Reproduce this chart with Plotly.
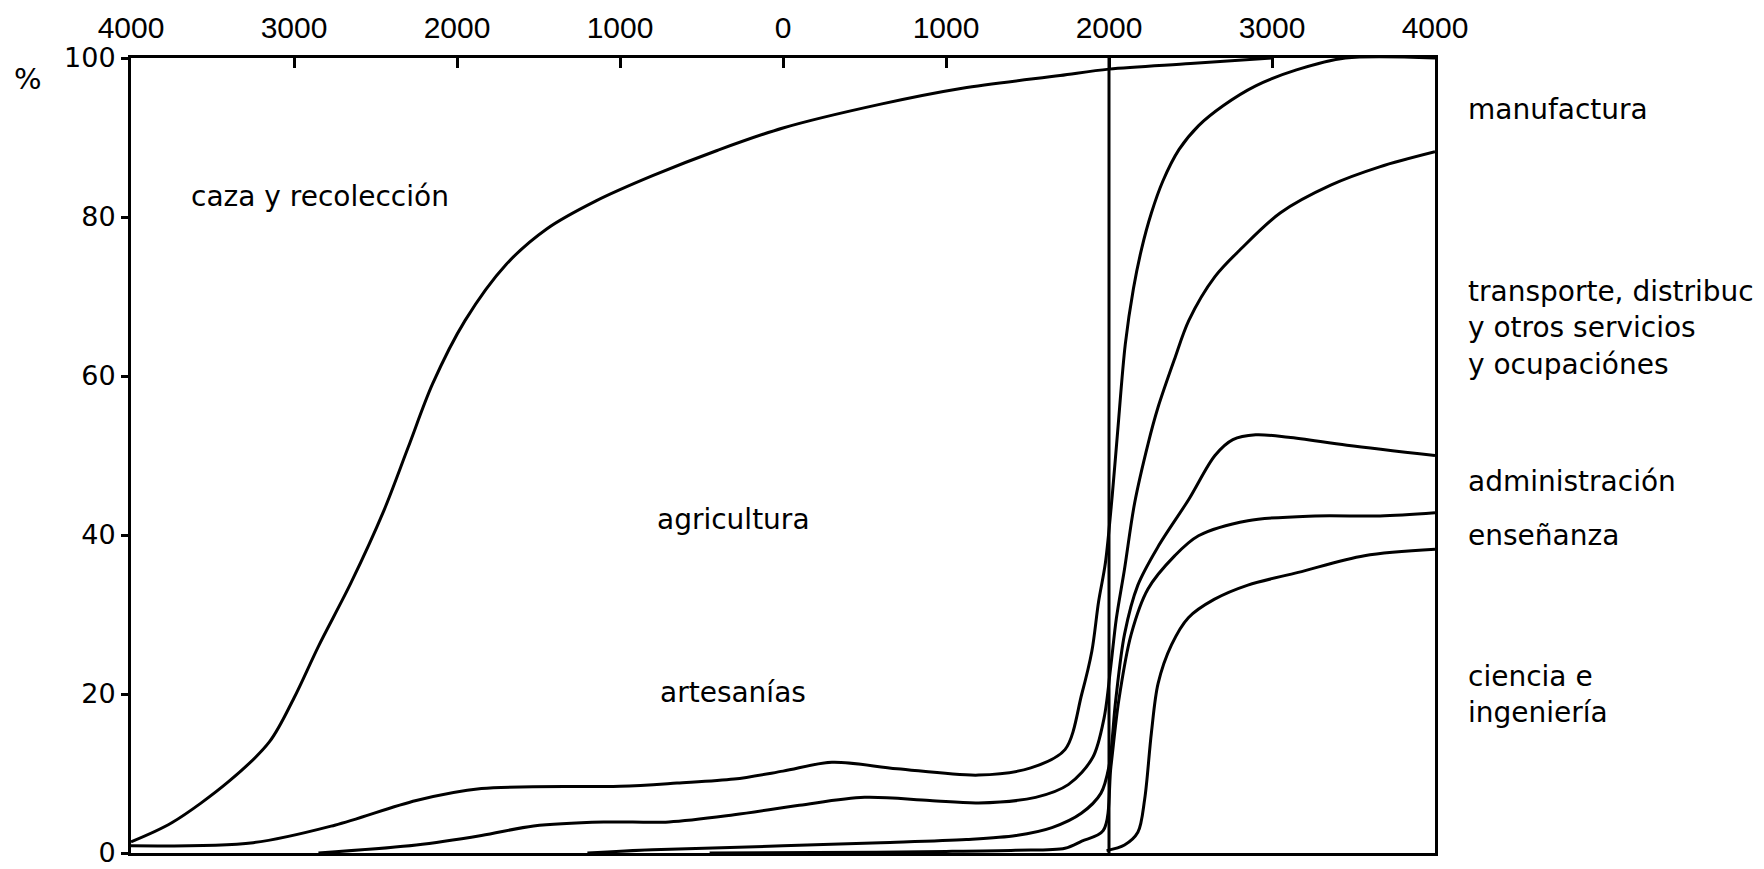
import plotly.graph_objects as go

# ---- data (years: negative = BC, percent of labour force) ----
tick_years = [-4000, -3000, -2000, -1000, 0, 1000, 2000, 3000, 4000]
tick_labels = ["4000", "3000", "2000", "1000", "0", "1000", "2000", "3000", "4000"]
pct_ticks = [0, 20, 40, 60, 80, 100]

caza_x = [-4000, -3750, -3400, -3150, -3000, -2850, -2650, -2450, -2300, -2150, -1950,
          -1700, -1450, -1150, -800, -400, 0, 600, 1100, 1700, 2000, 2500, 3000]
caza_y = [1.4, 3.8, 9.0, 14.0, 19.5, 26, 34, 43, 51, 59, 67,
          74, 78.5, 82, 85.2, 88.4, 91.2, 94.2, 96.2, 97.8, 98.6, 99.3, 100]

agri_x = [-4000, -3250, -2750, -2250, -1850, -1000, -650, -300, 0, 300, 700, 1200, 1520,
          1730, 1833, 1895, 1936, 1978, 2020, 2053, 2100, 2150, 2200, 2260, 2330, 2430,
          2550, 2700, 2900, 3150, 3450, 4000]
agri_y = [0.9, 1.3, 3.5, 6.6, 8.1, 8.4, 8.8, 9.3, 10.3, 11.4, 10.6, 9.8, 10.7,
          13.0, 20, 25.4, 31.6, 36.5, 45, 53, 64, 71, 76, 80.5, 84.5, 88.5,
          91.5, 94, 96.5, 98.5, 100, 100]

arte_x = [-2850, -2250, -1850, -1530, -1100, -700, -300, 100, 500, 900, 1200, 1550, 1750,
          1900, 1970, 2010, 2045, 2095, 2157, 2240, 2300, 2400, 2490, 2650, 2810, 3050,
          3360, 3660, 4000]
arte_y = [0, 1.0, 2.2, 3.4, 3.9, 3.9, 4.8, 6.0, 7.0, 6.6, 6.3, 7.0, 8.6,
          12, 17, 23.3, 29.5, 35.7, 44, 51.5, 56, 62, 67, 72.5, 76, 80.5,
          84, 86.3, 88.2]

serv_x = [-1200, -800, 0, 600, 1125, 1430, 1650, 1830, 1950, 2000, 2040, 2095, 2177,
          2300, 2490, 2650, 2760, 2900, 3100, 3460, 4000]
serv_y = [0, 0.4, 0.9, 1.3, 1.7, 2.2, 3.2, 5.0, 7.5, 10.9, 19, 27.5, 33.7,
          38.5, 44.5, 50, 52, 52.6, 52.3, 51.3, 50]

admin_x = [-450, 200, 1000, 1428, 1730, 1833, 1964, 2012, 2060, 2136, 2239, 2404, 2549,
           2852, 3264, 3663, 4000]
admin_y = [0, 0.05, 0.2, 0.35, 0.6, 1.5, 2.8, 10.9, 19.2, 27.5, 33.2, 37.4, 39.9,
           41.8, 42.4, 42.4, 42.8]

ense_x = [1985, 2095, 2177, 2219, 2260, 2301, 2384, 2487, 2645, 2852, 3161, 3567, 4000]
ense_y = [0.3, 1.0, 2.6, 6.8, 15.1, 21.3, 26.2, 29.6, 31.9, 33.7, 35.3, 37.4, 38.2]

divider_x = [2000, 2000]
divider_y = [0, 100]

curves = [(caza_x, caza_y), (agri_x, agri_y), (arte_x, arte_y), (serv_x, serv_y),
          (admin_x, admin_y), (ense_x, ense_y)]

fig = go.Figure()
for xs, ys in curves:
    fig.add_trace(go.Scatter(x=xs, y=ys, mode="lines",
                             line=dict(color="black", width=3, shape="spline", smoothing=0.9),
                             hoverinfo="skip", showlegend=False))
fig.add_trace(go.Scatter(x=divider_x, y=divider_y, mode="lines",
                         line=dict(color="black", width=3), hoverinfo="skip", showlegend=False))

txt_font = dict(family="DejaVu Sans, sans-serif", size=28, color="black")

fig.add_annotation(x=-3644, y=82.6, xref="x", yref="y", text="caza y recolección",
                   showarrow=False, xanchor="left", yanchor="middle", font=txt_font)
fig.add_annotation(x=-787, y=41.9, xref="x", yref="y", text="agricultura",
                   showarrow=False, xanchor="left", yanchor="middle", font=txt_font)
fig.add_annotation(x=-767, y=20.2, xref="x", yref="y", text="artesanías",
                   showarrow=False, xanchor="left", yanchor="middle", font=txt_font)

right_labels = [
    (0.935, "manufactura"),
    (0.660, "transporte, distribuc<br>y otros servicios<br>y ocupaciónes"),
    (0.467, "administración"),
    (0.399, "enseñanza"),
    (0.199, "ciencia e<br>ingeniería"),
]
for yp, t in right_labels:
    fig.add_annotation(x=1.024, y=yp, xref="paper", yref="paper", text=t, showarrow=False,
                       xanchor="left", yanchor="middle", align="left", font=txt_font)

fig.add_annotation(x=-0.079, y=0.973, xref="paper", yref="paper", text="%", showarrow=False,
                   xanchor="center", yanchor="middle",
                   font=dict(family="DejaVu Sans, sans-serif", size=29, color="black"))

fig.update_xaxes(range=[-4000, 4000], side="top", tickvals=tick_years, ticktext=tick_labels,
                 ticks="inside", ticklen=10, tickwidth=2.5, tickcolor="black",
                 showline=True, linecolor="black", linewidth=3, mirror=True,
                 showgrid=False, zeroline=False, automargin=False,
                 ticklabeloverflow="allow", ticklabelstandoff=5,
                 tickfont=dict(family="Liberation Sans Narrow, Liberation Sans, sans-serif", size=30, color="black"))
fig.update_yaxes(range=[0, 100], tickvals=pct_ticks, ticks="outside", ticklen=7, tickwidth=2.5,
                 tickcolor="black", showline=True, linecolor="black", linewidth=3, mirror=True,
                 showgrid=False, zeroline=False, automargin=False, ticklabeloverflow="allow",
                 tickfont=dict(family="DejaVu Sans, sans-serif", size=27, color="black"))

fig.update_layout(width=1756, height=861, margin=dict(l=123, r=329, t=50, b=16),
                  paper_bgcolor="white", plot_bgcolor="white")

fig.write_html("out.html")
